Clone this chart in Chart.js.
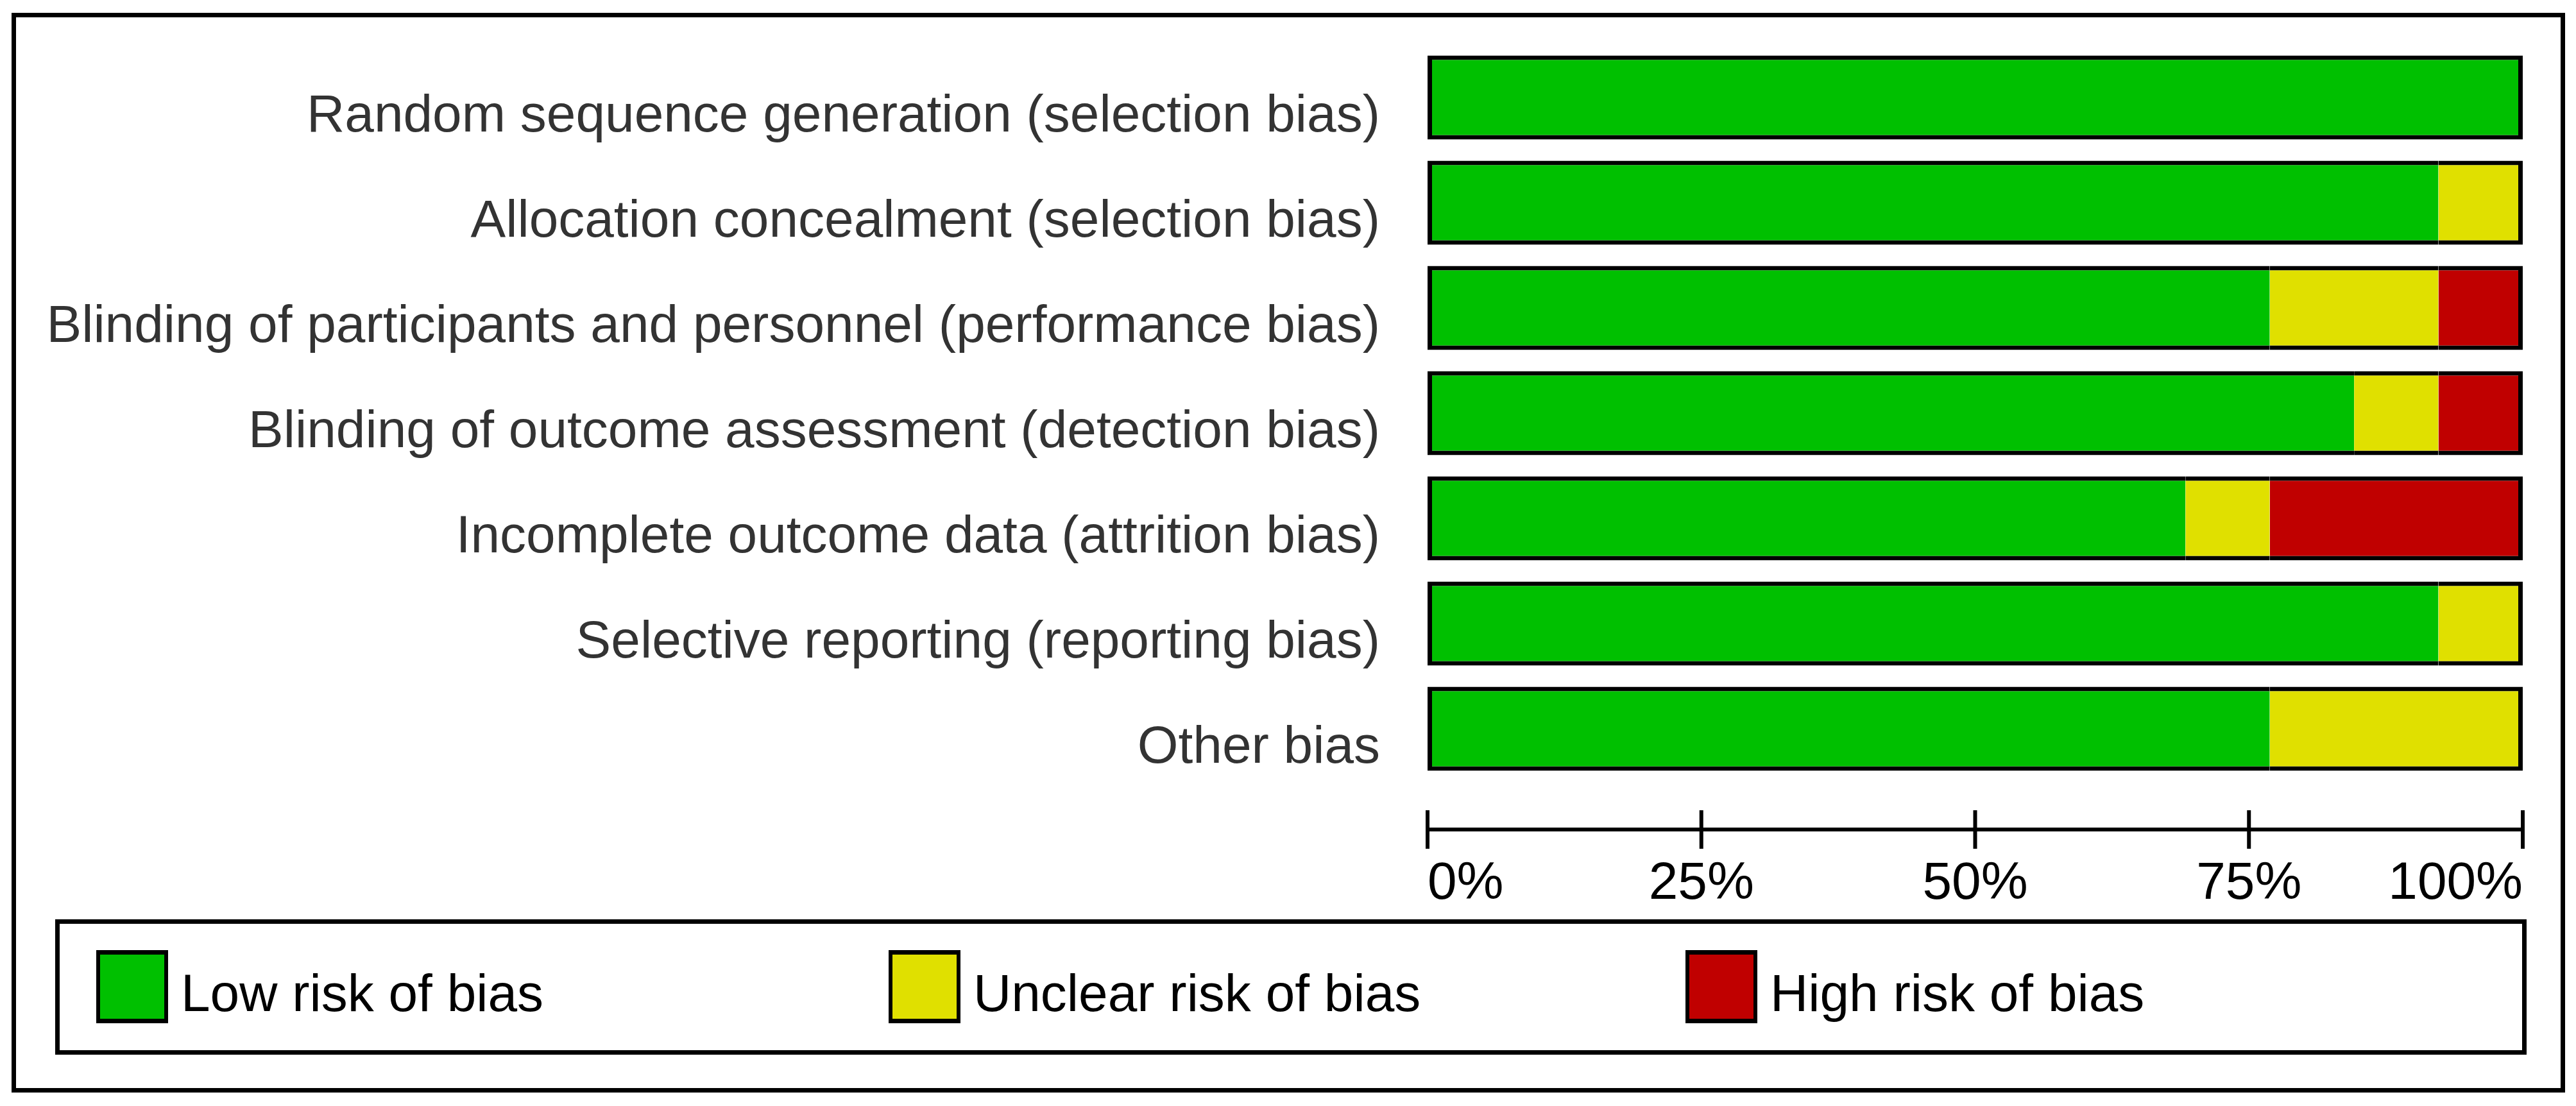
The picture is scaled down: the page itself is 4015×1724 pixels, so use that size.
<!DOCTYPE html>
<html>
<head>
<meta charset="utf-8">
<script src="https://cdn.jsdelivr.net/npm/chart.js@4.4.1/dist/chart.umd.min.js"></script>
<style>
  html, body { margin: 0; padding: 0; background: #fff; }
  #wrap { width: 4015px; height: 1724px; }
</style>
</head>
<body>
<div id="wrap"><canvas id="riskChart" width="4015" height="1724"></canvas></div>
<script>
const domains = [
  "Random sequence generation (selection bias)",
  "Allocation concealment (selection bias)",
  "Blinding of participants and personnel (performance bias)",
  "Blinding of outcome assessment (detection bias)",
  "Incomplete outcome data (attrition bias)",
  "Selective reporting (reporting bias)",
  "Other bias"
]
const lowRisk = [100, 92.3, 76.9, 84.6, 69.2, 92.3, 76.9]
const unclearRisk = [0, 7.7, 15.4, 7.7, 7.7, 7.7, 23.1]
const highRisk = [0, 0, 7.7, 7.7, 23.1, 0, 0]
const seriesNames = ["Low risk of bias", "Unclear risk of bias", "High risk of bias"]
const xTicks = [0, 25, 50, 75, 100]

const FONT = "'Liberation Sans', Arial, sans-serif"
const colors = ["#00c000", "#e0e000", "#c00000"]

// one black outline per whole bar, no dividers between segments
function segBorder(ctx) {
  const i = ctx.dataIndex
  if (i === undefined) return 7
  const rows = [lowRisk, unclearRisk, highRisk]
  let last = 0
  rows.forEach((r, k) => { if (r[i] > 0) last = k })
  return {
    top: 7,
    bottom: 7,
    left: ctx.datasetIndex === 0 ? 7 : 0,
    right: ctx.datasetIndex === last ? 7 : 0
  }
}

const framePlugin = {
  id: "frame",
  beforeDraw(chart) {
    const c = chart.ctx
    c.save()
    c.fillStyle = "#fff"
    c.fillRect(0, 0, chart.width, chart.height)
    c.restore()
  },
  afterDraw(chart) {
    const c = chart.ctx
    const xs = chart.scales.x
    c.save()
    c.strokeStyle = "#000"
    c.lineWidth = 7
    c.strokeRect(21.5, 23.5, 3973, 1676)
    c.strokeRect(89.5, 1436.5, 3845, 204)

    // axis line with ticks crossing it
    const ay = chart.chartArea.bottom + 75
    const x0 = xs.getPixelForValue(xTicks[0])
    const x1 = xs.getPixelForValue(xTicks[xTicks.length - 1])
    c.lineWidth = 6
    c.beginPath()
    c.moveTo(x0, ay)
    c.lineTo(x1, ay)
    c.stroke()
    xTicks.forEach(v => {
      const px = xs.getPixelForValue(v)
      c.beginPath()
      c.moveTo(px, ay - 30)
      c.lineTo(px, ay + 30)
      c.stroke()
    })

    // legend
    const slots = [150, 1385, 2627]
    chart.data.datasets.forEach((ds, k) => {
      const bx = slots[k]
      c.fillStyle = "#000"
      c.fillRect(bx, 1481, 112, 114)
      c.fillStyle = ds.backgroundColor
      c.fillRect(bx + 6, 1488, 100, 100)
      c.fillStyle = "#000"
      c.font = "82px " + FONT
      c.textAlign = "left"
      c.textBaseline = "alphabetic"
      c.fillText(ds.label, bx + 132, 1576)
    })
    c.restore()
  }
}

const datasets = [lowRisk, unclearRisk, highRisk].map((vals, k) => ({
  label: seriesNames[k],
  data: vals,
  backgroundColor: colors[k],
  borderColor: "#000",
  borderWidth: segBorder,
  borderSkipped: false,
  inflateAmount: 0,
  barPercentage: 0.8,
  categoryPercentage: 1
}))

new Chart(document.getElementById("riskChart"), {
  type: "bar",
  data: { labels: domains, datasets: datasets },
  plugins: [framePlugin],
  options: {
    indexAxis: "y",
    responsive: false,
    devicePixelRatio: 1,
    animation: false,
    layout: { padding: { left: 0, right: 83, top: 70, bottom: 0 } },
    plugins: {
      legend: { display: false },
      tooltip: { enabled: false }
    },
    scales: {
      x: {
        stacked: true,
        min: 0,
        max: 100,
        afterBuildTicks: scale => { scale.ticks = xTicks.map(v => ({ value: v })) },
        afterFit: scale => { scale.height = 506 },
        grid: { display: false, drawTicks: true, tickLength: 104 },
        border: { display: false },
        ticks: {
          align: "inner",
          padding: 7,
          maxRotation: 0,
          autoSkip: false,
          color: "#000",
          font: { family: FONT, size: 82 },
          callback: v => v + "%"
        }
      },
      y: {
        stacked: true,
        afterFit: scale => { scale.width = 2225 },
        grid: { display: false, drawTicks: true, tickLength: 70 },
        border: { display: false },
        ticks: {
          padding: 4,
          labelOffset: 30,
          color: "#333",
          font: { family: FONT, size: 82 }
        }
      }
    }
  }
})
</script>
</body>
</html>
